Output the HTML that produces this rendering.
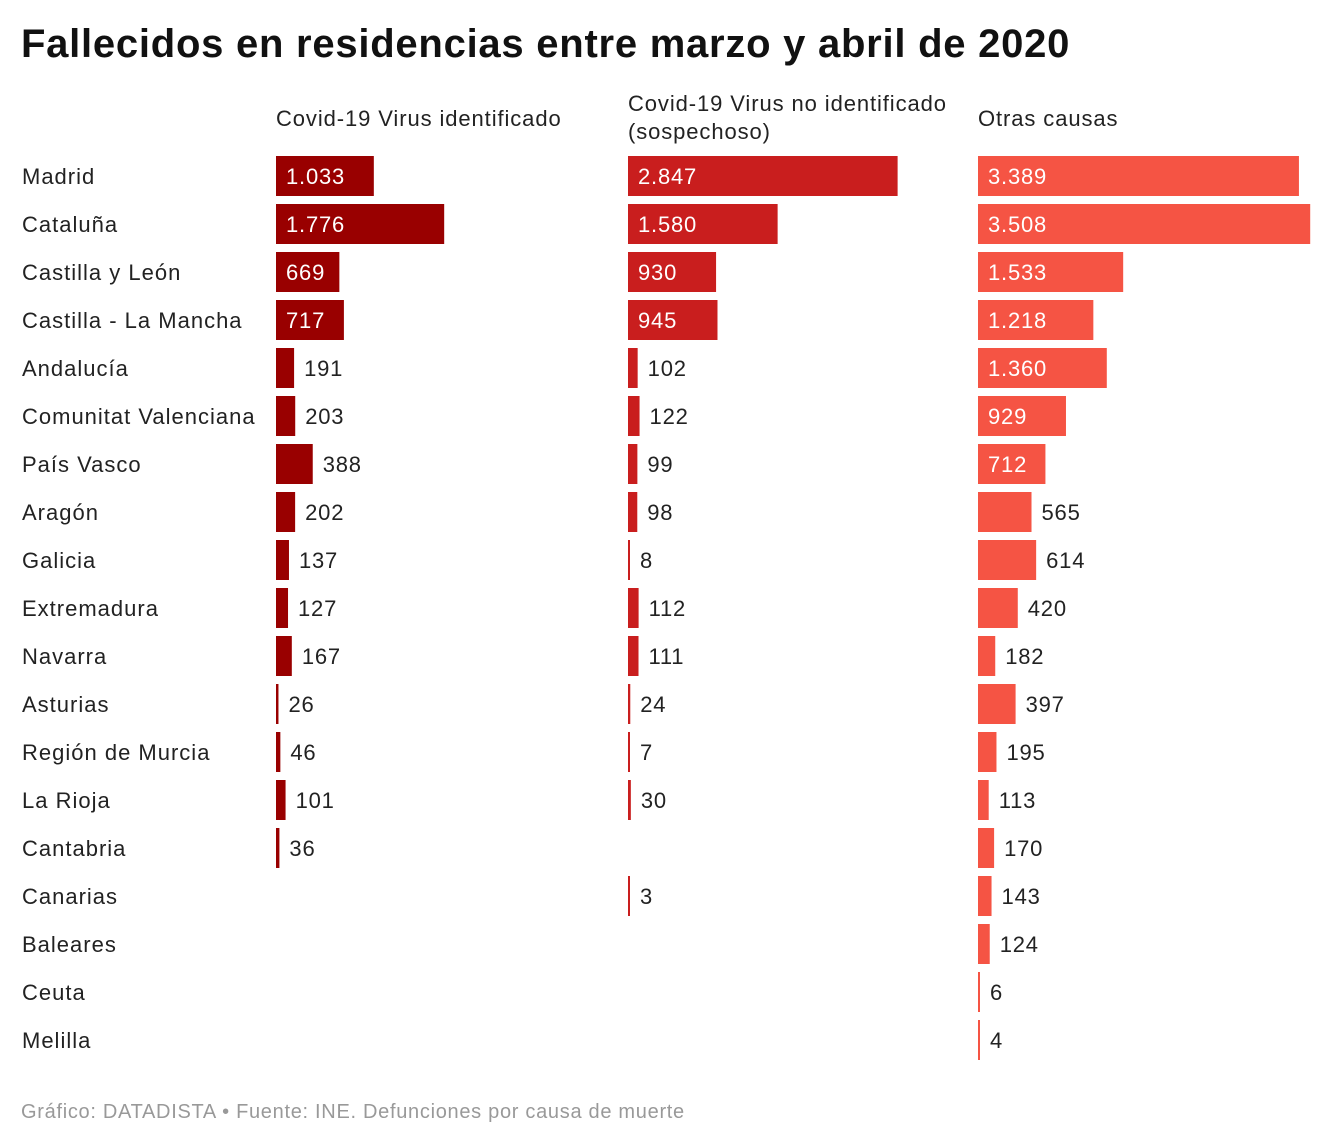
<!DOCTYPE html>
<html><head><meta charset="utf-8">
<style>
body{margin:0;width:1340px;height:1146px;background:#fff;font-family:"Liberation Sans",sans-serif;position:relative;overflow:hidden;color:#222}
.t{position:absolute;white-space:nowrap}
</style></head><body>
<div class="t" style="left:21px;top:22px;font-size:40px;font-weight:bold;color:#111;letter-spacing:0.75px">Fallecidos en residencias entre marzo y abril de 2020</div>
<div class="t" style="left:276px;top:106px;font-size:22px;letter-spacing:0.9px">Covid-19 Virus identificado</div>
<div class="t" style="left:628px;top:90px;font-size:22px;line-height:28px;letter-spacing:0.9px">Covid-19 Virus no identificado<br>(sospechoso)</div>
<div class="t" style="left:978px;top:106px;font-size:22px;letter-spacing:0.9px">Otras causas</div>
<div class="t" style="left:21px;top:1101px;font-size:20px;color:#999;letter-spacing:0.7px">Gráfico: DATADISTA • Fuente: INE. Defunciones por causa de muerte</div>
<svg id="chart" width="1340" height="1146" style="position:absolute;left:0;top:0"></svg>
<script>
const regions=["Madrid","Cataluña","Castilla y León","Castilla - La Mancha","Andalucía","Comunitat Valenciana","País Vasco","Aragón","Galicia","Extremadura","Navarra","Asturias","Región de Murcia","La Rioja","Cantabria","Canarias","Baleares","Ceuta","Melilla"];
const identificado=[1033,1776,669,717,191,203,388,202,137,127,167,26,46,101,36,null,null,null,null];
const sospechoso=[2847,1580,930,945,102,122,99,98,8,112,111,24,7,30,null,3,null,null,null];
const otras=[3389,3508,1533,1218,1360,929,712,565,614,420,182,397,195,113,170,143,124,6,4];
const svg=document.getElementById('chart');
const NS='http://www.w3.org/2000/svg';
const scale=0.0947, rowY=i=>156+i*48;
const fmt=v=>v>=1000?Math.floor(v/1000)+'.'+String(v%1000).padStart(3,'0'):String(v);
regions.forEach((r,i)=>{
  const t=document.createElementNS(NS,'text');
  t.setAttribute('x',22);t.setAttribute('y',rowY(i)+28);
  t.setAttribute('font-size','22');t.setAttribute('fill','#222');
  t.setAttribute('letter-spacing','1');
  
  
  t.textContent=r;svg.appendChild(t);
});
const cols=[[identificado,276,'#990000','identificado'],[sospechoso,628,'#c91e1e','sospechoso'],[otras,978,'#f55444','otras']];
cols.forEach(([vals,x0,col,nm])=>{
  vals.forEach((v,i)=>{
    if(v==null)return;
    const w=Math.max(2,v*scale);
    const b=document.createElementNS(NS,'rect');
    b.setAttribute('x',x0);b.setAttribute('y',rowY(i));
    b.setAttribute('width',w);b.setAttribute('height',40);b.setAttribute('fill',col);
    
    
    svg.appendChild(b);
    const inside=w>60;
    const t=document.createElementNS(NS,'text');
    t.setAttribute('x',inside?x0+10:x0+w+10);t.setAttribute('y',rowY(i)+28);
    t.setAttribute('font-size','22');t.setAttribute('fill',inside?'#fff':'#222');
    t.setAttribute('letter-spacing','0.8');
    
    
    t.textContent=fmt(v);svg.appendChild(t);
  });
});
</script>
</body></html>
